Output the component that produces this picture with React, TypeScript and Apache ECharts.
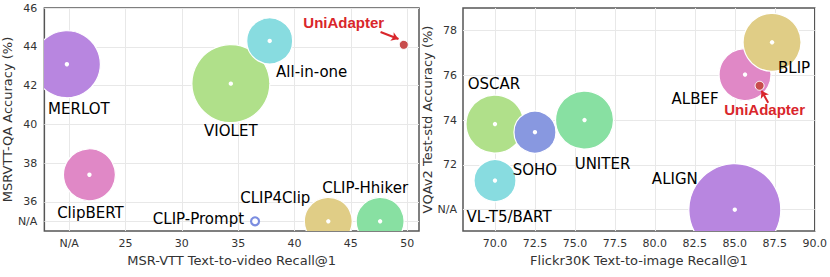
import React, { useEffect, useRef } from "react";
import * as echarts from "echarts";

// ---------- Left panel: MSR-VTT ----------
const leftNames = ["MERLOT", "VIOLET", "All-in-one", "ClipBERT", "CLIP-Prompt", "CLIP4Clip", "CLIP-Hhiker", "UniAdapter"];
const leftRecall = [19.8, 34.35, 37.8, 21.8, 36.5, 43.0, 47.6, 49.7];
const leftQA = [43.1, 42.1, 44.3, 37.4, 35.0, 35.0, 35.0, 44.1];
const leftBubble = [67, 78, 46, 52, 8, 48, 48, 9];
const leftXTicks = [20, 25, 30, 35, 40, 45, 50];
const leftYTicks = [35, 36, 38, 40, 42, 44, 46];
const leftArrow = [[47.64, 44.76], [49.23, 44.4]];

// ---------- Right panel: Flickr30K / VQAv2 ----------
const rightNames = ["OSCAR", "SOHO", "UNITER", "VL-T5/BART", "ALIGN", "ALBEF", "BLIP", "UniAdapter"];
const rightRecall = [70.0, 72.5, 75.6, 70.0, 85.0, 85.64, 87.33, 86.55];
const rightVQA = [73.82, 73.46, 74.0, 71.3, 70.0, 76.03, 77.47, 75.53];
const rightBubble = [58, 42, 58, 42, 92, 52, 58, 9];
const rightXTicks = [70, 72.5, 75, 77.5, 80, 82.5, 85, 87.5, 90];
const rightYTicks = [70, 72, 74, 76, 78];
const rightArrow = [[87.09, 74.77], [86.67, 75.31]];

// ---------- styles ----------
const RED = "#d9262b";
const leftColors = ["#b886e0", "#b0e08a", "#88dce0", "#e088c6", "ring", "#e0cd86", "#88e0a2", "#c84c4c"];
const rightColors = ["#b0e08a", "#8898e0", "#88e0a2", "#88dce0", "#b886e0", "#e088c6", "#e0cd86", "#c84c4c"];
// [dx, dy, align]
const leftLabelOffsets: [number, number, string][] = [
  [12, 45, "center"], [0, 47, "center"], [42, 31, "center"], [1, 38, "center"],
  [-11, -2, "right"], [-53, -23, "center"], [-15, -33, "center"], [-60, -22, "center"],
];
const rightLabelOffsets: [number, number, string][] = [
  [-1, -40, "center"], [0, 38, "center"], [18, 44, "center"], [14, 36, "center"],
  [-60, -31, "center"], [-50, 24, "center"], [22, 26, "center"], [5, 24, "center"],
];

const FONT = "DejaVu Sans";

function buildData(xs: number[], ys: number[], ss: number[]) {
  return xs.map((x, i) => [x, ys[i], ss[i], i]);
}

function bubbleSeries(idx: number, data: number[][], colors: string[]) {
  return {
    type: "custom",
    xAxisIndex: idx,
    yAxisIndex: idx,
    clip: true,
    data,
    z: 2,
    renderItem: (params: any, api: any) => {
      const x = api.value(0);
      const y = api.value(1);
      const s = api.value(2);
      const i = api.value(3);
      const [cx, cy] = api.coord([x, y]);
      const c = colors[i];
      const children: any[] = [];
      if (c === "ring") {
        children.push({ type: "circle", shape: { cx, cy, r: s / 2 }, style: { fill: "#fff", stroke: "#7b8de0", lineWidth: 2.2 } });
      } else if (s < 15) {
        children.push({ type: "circle", shape: { cx, cy, r: s / 2 }, style: { fill: c, stroke: "#fff", lineWidth: 1 } });
      } else {
        children.push({ type: "circle", shape: { cx, cy, r: s / 2 }, style: { fill: c, stroke: "#fff", lineWidth: 1.2 } });
        children.push({ type: "circle", shape: { cx, cy, r: 2.2 }, style: { fill: "#fff" } });
      }
      return { type: "group", children };
    },
  };
}

function labelSeries(idx: number, data: number[][], names: string[], offsets: [number, number, string][], arrow: number[][]) {
  return {
    type: "custom",
    xAxisIndex: idx,
    yAxisIndex: idx,
    clip: false,
    data,
    z: 5,
    renderItem: (params: any, api: any) => {
      const i = api.value(3);
      const [cx, cy] = api.coord([api.value(0), api.value(1)]);
      const name = names[i];
      const isUni = name === "UniAdapter";
      return {
        type: "text",
        x: cx + offsets[i][0],
        y: cy + offsets[i][1],
        style: {
          text: name,
          fontSize: 15,
          fontFamily: isUni ? "Liberation Sans" : FONT,
          fontWeight: isUni ? "bold" : "normal",
          fill: isUni ? RED : "#000",
          align: offsets[i][2],
          verticalAlign: "middle",
        },
      };
    },
    markLine: {
      silent: true,
      symbol: ["none", "arrow"],
      symbolSize: 7,
      label: { show: false },
      lineStyle: { color: RED, width: 2, type: "solid" },
      data: [[{ coord: arrow[0] }, { coord: arrow[1] }]],
    },
  };
}

const tickLabel = { color: "#333", fontSize: 11, fontFamily: FONT };
const nameStyle = { color: "#333", fontSize: 13, fontFamily: FONT };
const splitLine = { show: true, lineStyle: { color: "#e8e8e8", width: 1 } };

export default function App() {
  const ref = useRef<HTMLDivElement>(null);
  useEffect(() => {
    if (!ref.current) return;
    const chart = echarts.init(ref.current, null, { renderer: "svg" });
    const option: any = {
      animation: false,
      backgroundColor: "#fff",
      grid: [
        { left: 43, top: 8, right: 411, bottom: 46, show: true, borderColor: "#555", borderWidth: 1.5, backgroundColor: "transparent" },
        { left: 463, top: 8, right: 2, bottom: 46, show: true, borderColor: "#555", borderWidth: 1.5, backgroundColor: "transparent" },
      ],
      xAxis: [
        {
          type: "value", gridIndex: 0, min: 17.8, max: 51.05,
          axisLine: { show: false }, axisTick: { show: false, customValues: leftXTicks },
          axisLabel: { ...tickLabel, margin: 7, customValues: leftXTicks, formatter: (v: number) => (v === 20 ? "N/A" : String(v)) },
          splitLine,
          name: "MSR-VTT Text-to-video Recall@1", nameLocation: "middle", nameGap: 18, nameTextStyle: nameStyle,
        },
        {
          type: "value", gridIndex: 1, min: 68, max: 90,
          axisLine: { show: false }, axisTick: { show: false, customValues: rightXTicks },
          axisLabel: { ...tickLabel, margin: 7, customValues: rightXTicks, formatter: (v: number) => v.toFixed(1) },
          splitLine,
          name: "Flickr30K Text-to-image Recall@1", nameLocation: "middle", nameGap: 18, nameTextStyle: nameStyle,
        },
      ],
      yAxis: [
        {
          type: "value", gridIndex: 0, min: 34.5, max: 46,
          axisLine: { show: false }, axisTick: { show: false, customValues: leftYTicks },
          axisLabel: { ...tickLabel, margin: 7, customValues: leftYTicks, formatter: (v: number) => (v === 35 ? "N/A" : String(v)) },
          splitLine,
          name: "MSRVTT-QA Accuracy (%)", nameLocation: "middle", nameGap: 21, nameTextStyle: nameStyle,
        },
        {
          type: "value", gridIndex: 1, min: 69.05, max: 79,
          axisLine: { show: false }, axisTick: { show: false, customValues: rightYTicks },
          axisLabel: { ...tickLabel, margin: 6, customValues: rightYTicks, formatter: (v: number) => (v === 70 ? "N/A" : String(v)) },
          splitLine,
          name: "VQAv2 Test-std Accuracy (%)", nameLocation: "middle", nameGap: 19, nameTextStyle: nameStyle,
        },
      ],
      series: [
        bubbleSeries(0, buildData(leftRecall, leftQA, leftBubble), leftColors),
        bubbleSeries(1, buildData(rightRecall, rightVQA, rightBubble), rightColors),
        labelSeries(0, buildData(leftRecall, leftQA, leftBubble), leftNames, leftLabelOffsets, leftArrow),
        labelSeries(1, buildData(rightRecall, rightVQA, rightBubble), rightNames, rightLabelOffsets, rightArrow),
      ],
    };
    chart.setOption(option);
    return () => chart.dispose();
  }, []);
  return <div ref={ref} style={{ position: "fixed", left: 0, top: 0, width: 830, height: 277 }} />;
}
